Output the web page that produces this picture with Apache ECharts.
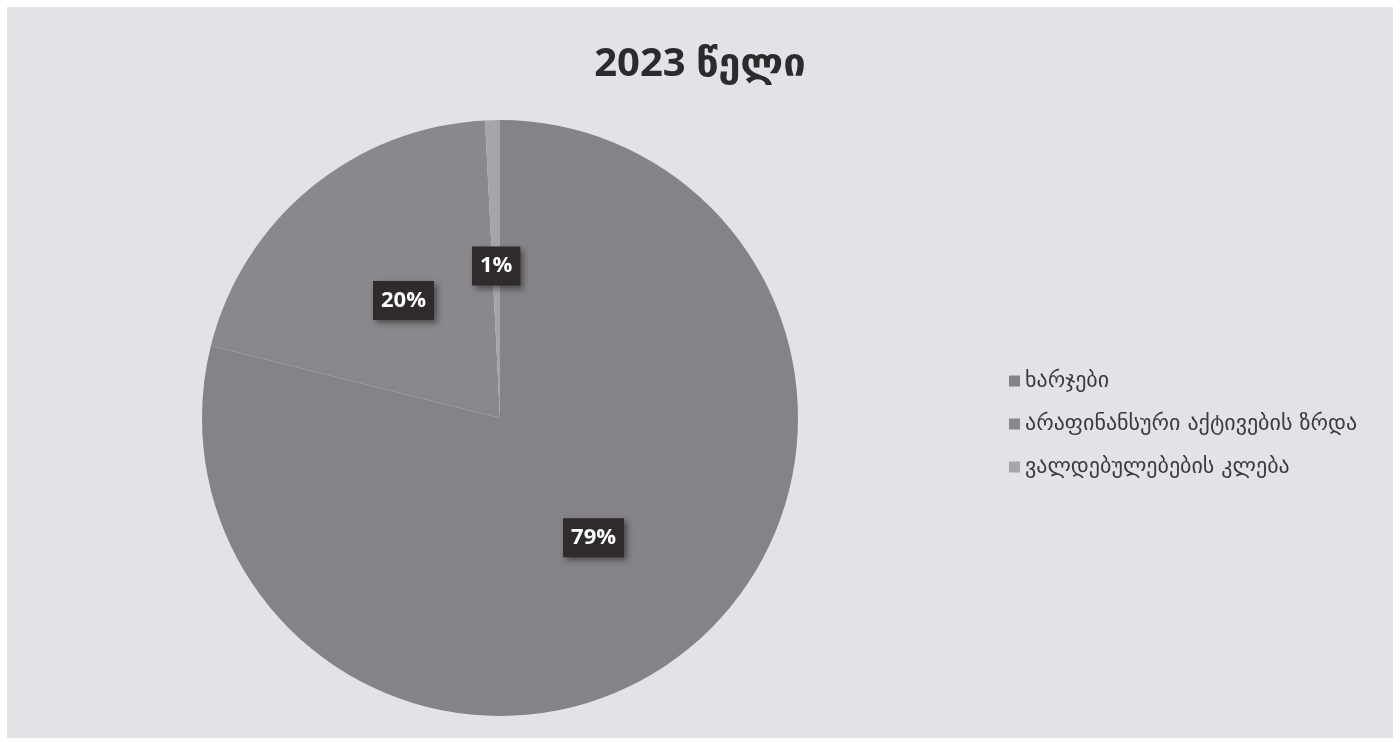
<!DOCTYPE html>
<html>
<head>
<meta charset="utf-8">
<script src="https://cdn.jsdelivr.net/npm/echarts@6/dist/echarts.min.js"></script>
<style>
html,body{margin:0;padding:0;background:#ffffff;}
#chart{width:1400px;height:742px;}
</style>
</head>
<body>
<div id="chart"></div>
<script>
const titleText = '2023 წელი';
const categories = ['ხარჯები', 'არაფინანსური აქტივების ზრდა', 'ვალდებულებების კლება'];
const values = [78.9, 20.3, 0.8];
const colors = ['#858387', '#8a888c', '#a7a5a9'];

const chart = echarts.init(document.getElementById('chart'));
chart.setOption({
  backgroundColor: '#ffffff',
  animation: false,
  graphic: [{
    type: 'rect', z: -10, silent: true,
    shape: { x: 7, y: 7, width: 1386, height: 731 },
    style: { fill: '#e4e2e6' }
  }],
  title: {
    text: titleText,
    left: 'center',
    top: 40,
    textStyle: { fontFamily: '"Open Sans","DejaVu Sans",sans-serif', fontWeight: 'bold', fontSize: 40, color: '#2b2a2c' }
  },
  legend: {
    orient: 'vertical',
    left: 1004,
    top: 365,
    itemWidth: 11,
    itemHeight: 11,
    itemGap: 21,
    icon: 'rect',
    textStyle: { fontFamily: '"DejaVu Sans",sans-serif', fontSize: 22, color: '#3a393b' },
    data: categories
  },
  series: [{
    type: 'pie',
    center: [500, 418],
    radius: [0, 298],
    startAngle: 90,
    clockwise: true,
    percentPrecision: 0,
    silent: true,
    itemStyle: { borderWidth: 0 },
    label: {
      show: true,
      position: 'inside',
      formatter: '{d}%',
      color: '#ffffff',
      fontFamily: '"Open Sans",sans-serif',
      fontWeight: 'bold',
      fontSize: 22,
      backgroundColor: '#2f2b2c',
      padding: [9, 8, 8, 8],
      shadowColor: 'rgba(0,0,0,0.45)',
      shadowBlur: 6,
      shadowOffsetX: 3,
      shadowOffsetY: 3
    },
    labelLine: { show: false },
    data: categories.map((c, i) => ({ name: c, value: values[i], itemStyle: { color: colors[i] } }))
  }]
});
</script>
</body>
</html>
